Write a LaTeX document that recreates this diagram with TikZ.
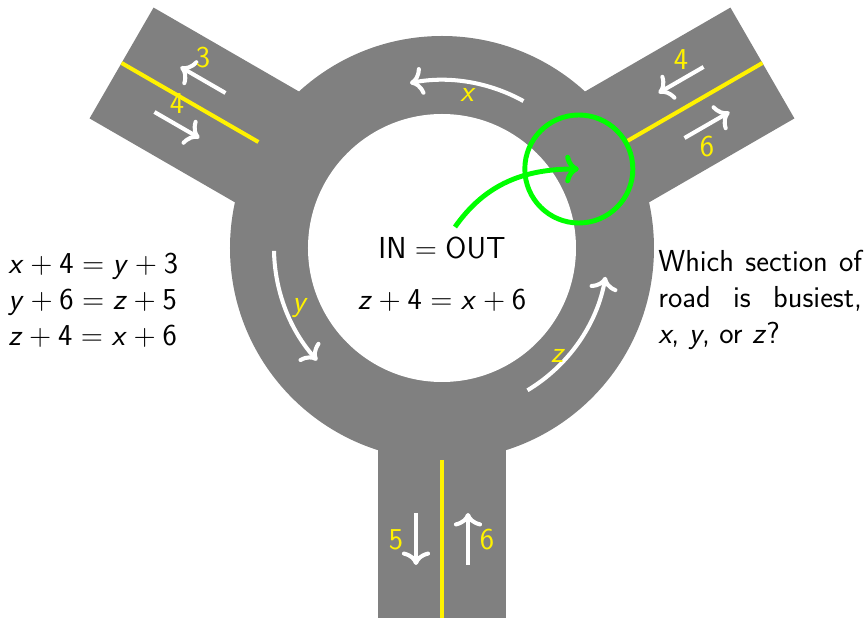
\documentclass[tikz,border=0pt]{standalone}
\usepackage{fontspec}
\usetikzlibrary{arrows.meta}
\newcommand{\mv}[1]{\textit{#1}}
\newcommand{\rplus}{\hspace{0.2222em}+\hspace{0.2222em}}
\newcommand{\requal}{\hspace{0.2778em}=\hspace{0.2778em}}

\begin{document}
\begin{tikzpicture}[
  x=0.02cm, y=0.02cm,
  font=\sffamily\fontsize{17.28}{20.5}\selectfont,
  road/.style={fill=gray},
  lane/.style={yellow, line width=2.3pt},
  flow/.style={-{To[scale=1.15]}, white, line width=2.3pt},
  lbl/.style={yellow, inner sep=0pt},
  hubline/.style={green, line width=2.8pt},
  txt/.style={inner sep=0pt, align=left}
]
  \useasboundingbox (-442,-370) rectangle (424,248);
  % roundabout and the three roads
  \fill[road] (0,0) circle[radius=212];
  \foreach \a in {-90,30,150}
    \fill[road, rotate=\a] (0,-64) rectangle (370,64);
  \fill[white] (0,0) circle[radius=134];
  \foreach \a in {-90,30,150}
    \draw[lane, rotate=\a] (212,0) -- (370,0);

  % traffic out of and into each road
  \foreach \a in {-90,30,150} {
    \draw[flow, rotate=\a] (265,-26) -- (317,-26);
    \draw[flow, rotate=\a] (317,26) -- (265,26);
  }
  \node[lbl] (outl) at (-239,190) {3};
  \node[lbl] (inl) at (-265,144) {4};
  \node[lbl] (inr) at (239,188) {4};
  \node[lbl] (outr) at (265,101) {6};
  \node[lbl] (outb) at (-46,-292) {5};
  \node[lbl] (inb) at (45,-292) {6};

  % traffic round the ring
  \draw[flow] (61:168) arc[start angle=61, end angle=101, radius=168];
  \draw[flow] (181:168) arc[start angle=181, end angle=222, radius=168];
  \draw[flow] (-59:166) arc[start angle=-59, end angle=-10, radius=166];
  \node[lbl] (secx) at (26,153) {\mv{x}};
  \node[lbl] (secy) at (-142,-60) {\mv{y}};
  \node[lbl] (secz) at (116,-108) {\mv{z}};

  % junction under study
  \coordinate (hub) at (30:158);
  \draw[hubline] (hub) circle[radius=54];
  \coordinate (gstart) at (13,21);
  \draw[hubline, -{To}] (gstart) to[out=55, in=180] (hub);

  \node[txt] (balance) at (0,0) {IN\requal OUT};
  \node[txt] (eqz) at (0,-52) {\mv{z}\rplus 4\requal\mv{x}\rplus 6};
  \node[txt, anchor=west] (eqs) at (-434,-52)
    {\mv{x}\rplus 4\requal\mv{y}\rplus 3\\
     \mv{y}\rplus 6\requal\mv{z}\rplus 5\\
     \mv{z}\rplus 4\requal\mv{x}\rplus 6};
  \node[txt, anchor=west, text width=116pt, align=justify] (question) at (216,-52)
    {Which section of\linebreak road is busiest,\linebreak \mv{x}, \mv{y}, or \mv{z}?};
\end{tikzpicture}
\end{document}
